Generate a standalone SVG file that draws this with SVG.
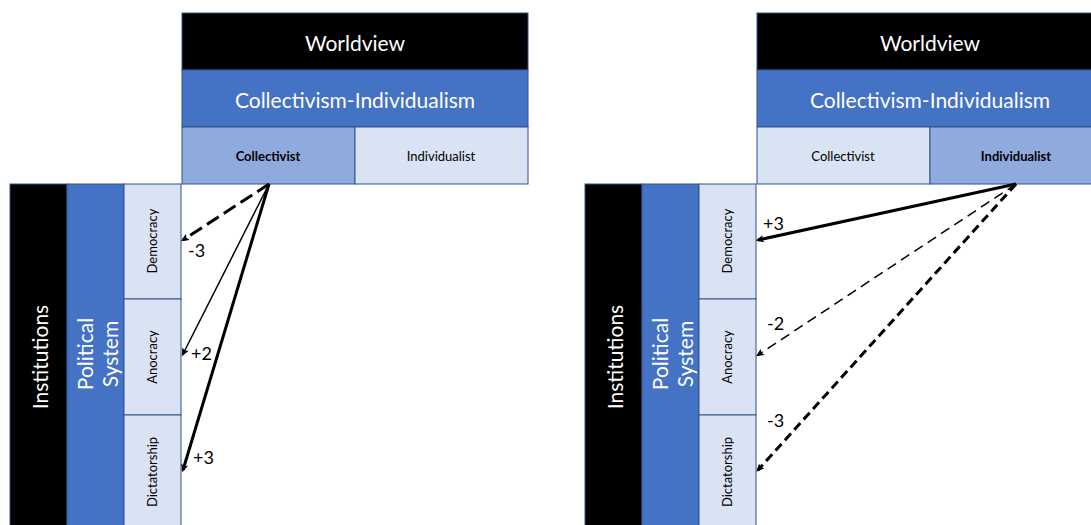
<svg xmlns="http://www.w3.org/2000/svg" width="1091" height="525" viewBox="0 0 1091 525">
  <style>
    .cell { stroke: #2F528F; stroke-width: 1; }
    .dark { fill: #000000; }
    .blue { fill: #4472C4; }
    .mid { fill: #8FAADC; }
    .light { fill: #DAE3F3; }
    text { font-family: "Lato", "Noto Sans", sans-serif; }
    .big { font-size: 21px; fill: #ffffff; text-anchor: middle; dominant-baseline: central; }
    .small { font-size: 13px; fill: #000000; text-anchor: middle; dominant-baseline: central; }
    .bold { font-weight: bold; }
    .lbl { font-size: 18px; fill: #000000; }
    .arrow { fill: none; stroke: #000000; }
    .thick { stroke-width: 3; }
    .thin { stroke-width: 1.5; }
  </style>
  <defs>
    <marker id="head" markerUnits="userSpaceOnUse" viewBox="0 0 10 10" markerWidth="9" markerHeight="8" refX="7" refY="5" orient="auto">
      <path d="M0,0.5 L10,5 L0,9.5 L2,5 z" fill="#000000"/>
    </marker>
  </defs>

  <rect width="1091" height="525" fill="#ffffff"/>

  <!-- left panel: worldview header -->
  <g id="l-worldview">
    <rect class="cell dark" x="182" y="13" width="346" height="57"/>
    <text class="big" x="355" y="42">Worldview</text>
  </g>
  <g id="l-colind">
    <rect class="cell blue" x="182" y="70" width="346" height="57"/>
    <text class="big" x="355" y="99">Collectivism-Individualism</text>
  </g>
  <g id="l-collectivist">
    <rect class="cell mid" x="182" y="127" width="173" height="57"/>
    <text class="small bold" x="268" y="156">Collectivist</text>
  </g>
  <g id="l-individualist">
    <rect class="cell light" x="355" y="127" width="173" height="57"/>
    <text class="small" x="441" y="156">Individualist</text>
  </g>

  <!-- left panel: institutions column -->
  <g id="l-institutions">
    <rect class="cell dark" x="10" y="184" width="57" height="360"/>
    <text class="big" transform="translate(39,357) rotate(-90)">Institutions</text>
  </g>
  <g id="l-political">
    <rect class="cell blue" x="67" y="184" width="57" height="360"/>
    <text class="big" transform="translate(84,354) rotate(-90)">Political</text>
    <text class="big" transform="translate(109,354) rotate(-90)">System</text>
  </g>
  <g id="l-democracy">
    <rect class="cell light" x="124" y="184" width="57" height="115"/>
    <text class="small" transform="translate(152,241) rotate(-90)">Democracy</text>
  </g>
  <g id="l-anocracy">
    <rect class="cell light" x="124" y="299" width="57" height="116"/>
    <text class="small" transform="translate(152,357) rotate(-90)">Anocracy</text>
  </g>
  <g id="l-dictatorship">
    <rect class="cell light" x="124" y="415" width="57" height="129"/>
    <text class="small" transform="translate(152,472) rotate(-90)">Dictatorship</text>
  </g>

  <!-- right panel: worldview header -->
  <g id="r-worldview">
    <rect class="cell dark" x="757" y="13" width="346" height="57"/>
    <text class="big" x="930" y="42">Worldview</text>
  </g>
  <g id="r-colind">
    <rect class="cell blue" x="757" y="70" width="346" height="57"/>
    <text class="big" x="930" y="99">Collectivism-Individualism</text>
  </g>
  <g id="r-collectivist">
    <rect class="cell light" x="757" y="127" width="173" height="57"/>
    <text class="small" x="843" y="156">Collectivist</text>
  </g>
  <g id="r-individualist">
    <rect class="cell mid" x="930" y="127" width="173" height="57"/>
    <text class="small bold" x="1016" y="156">Individualist</text>
  </g>

  <!-- right panel: institutions column -->
  <g id="r-institutions">
    <rect class="cell dark" x="585" y="184" width="57" height="360"/>
    <text class="big" transform="translate(614,357) rotate(-90)">Institutions</text>
  </g>
  <g id="r-political">
    <rect class="cell blue" x="642" y="184" width="57" height="360"/>
    <text class="big" transform="translate(659,354) rotate(-90)">Political</text>
    <text class="big" transform="translate(684,354) rotate(-90)">System</text>
  </g>
  <g id="r-democracy">
    <rect class="cell light" x="699" y="184" width="57" height="115"/>
    <text class="small" transform="translate(727,241) rotate(-90)">Democracy</text>
  </g>
  <g id="r-anocracy">
    <rect class="cell light" x="699" y="299" width="57" height="116"/>
    <text class="small" transform="translate(727,357) rotate(-90)">Anocracy</text>
  </g>
  <g id="r-dictatorship">
    <rect class="cell light" x="699" y="415" width="57" height="129"/>
    <text class="small" transform="translate(727,472) rotate(-90)">Dictatorship</text>
  </g>

  <!-- connectors -->
  <g id="connectors">
    <line class="arrow thick" x1="269" y1="184" x2="183" y2="240" stroke-dasharray="14 6" marker-end="url(#head)"/>
    <line class="arrow thin" x1="269" y1="184" x2="183" y2="354" marker-end="url(#head)"/>
    <line class="arrow thick" x1="269" y1="184" x2="183" y2="470" marker-end="url(#head)"/>
    <line class="arrow thick" x1="1016" y1="184" x2="758" y2="240" marker-end="url(#head)"/>
    <line class="arrow thin" x1="1016" y1="184" x2="758" y2="355" stroke-dasharray="10 6" marker-end="url(#head)"/>
    <line class="arrow thick" x1="1016" y1="184" x2="758" y2="470" stroke-dasharray="9 5" marker-end="url(#head)"/>
  </g>

  <!-- connector labels -->
  <g id="labels">
    <text class="lbl" x="188" y="257">-3</text>
    <text class="lbl" x="191" y="360">+2</text>
    <text class="lbl" x="193" y="464">+3</text>
    <text class="lbl" x="763" y="230">+3</text>
    <text class="lbl" x="767" y="330">-2</text>
    <text class="lbl" x="767" y="427">-3</text>
  </g>
</svg>
